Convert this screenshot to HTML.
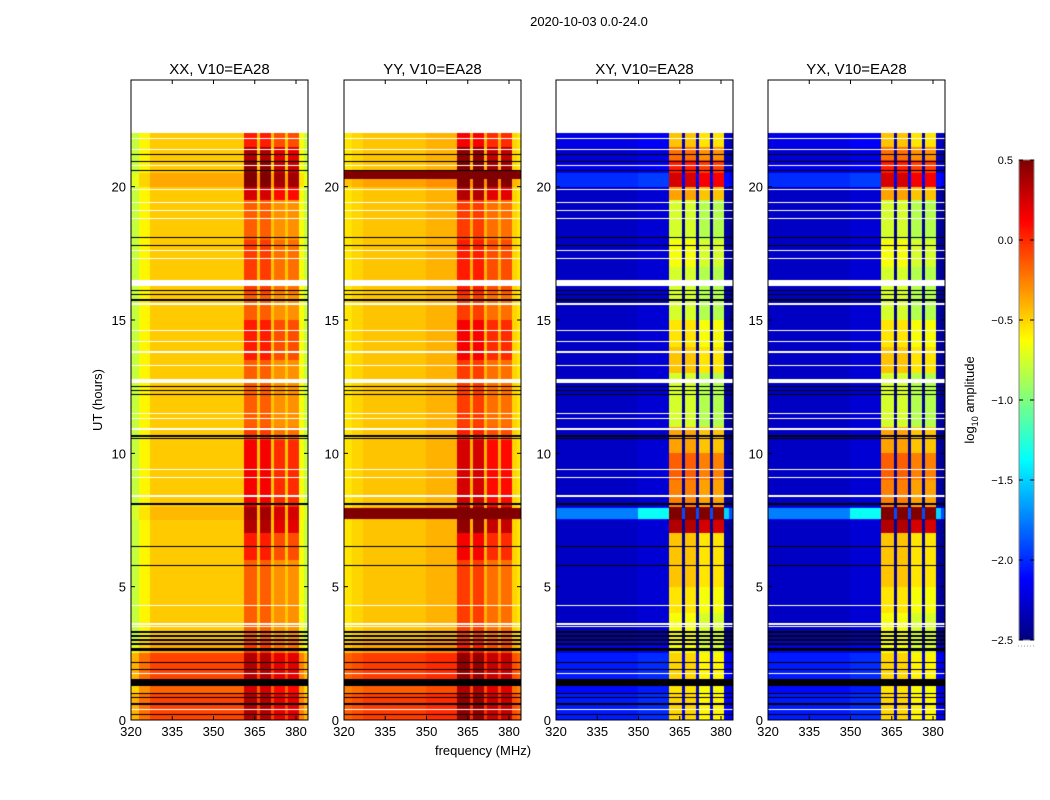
<!DOCTYPE html>
<html><head><meta charset="utf-8">
<style>
body{margin:0;background:#fff;font-family:"Liberation Sans",sans-serif;}
#wrap{position:relative;width:1050px;height:800px;overflow:hidden;}
canvas,svg{position:absolute;left:0;top:0;}
</style></head>
<body>
<div id="wrap">
<canvas id="cv" width="1050" height="800"></canvas>
<svg id="sv" width="1050" height="800"></svg>
</div>
<script>
// ---- data ----
const panelTitles = ["XX, V10=EA28","YY, V10=EA28","XY, V10=EA28","YX, V10=EA28"];
const xTicks = [320,335,350,365,380];
const yTicks = [0,5,10,15,20];
const cbTicks = [0.5,0.0,-0.5,-1.0,-1.5,-2.0,-2.5];
const fEdges = [320,323,327,350,361,366,367,371,372,376,377,381,383,385];
const bandMask = [0,0,0,0,1,0,1,0,1,0,1,0,0];
const profXX = [-0.8,-0.6,-0.47,-0.47,-0.15,-0.45,-0.15,-0.45,-0.3,-0.45,-0.3,-0.65,-0.8];
const profYY = [-0.55,-0.5,-0.45,-0.4,-0.05,-0.4,-0.05,-0.4,-0.2,-0.4,-0.2,-0.5,-0.55];
const profXY = [-2.3,-2.3,-2.3,-2.25,-0.85,-2.45,-0.85,-2.45,-0.95,-2.45,-0.95,-2.4,-2.45];
const profYX = [-2.3,-2.3,-2.3,-2.25,-0.85,-2.45,-0.85,-2.45,-0.95,-2.45,-0.95,-2.4,-2.45];
// half-hour bins from 0 to 22 h (44 values)
const coBase = [0.4,0.4,0.3,0.4,0.4,0.1,0,0,0,0,0,0,0,0,0,0.05,0,0,0,0,0,0,0,0,0,0,0,0,0,0,0,0,0,0,0,0,0,0,0,0,0.1,0,0,0];
const coBand = [0.1,0.1,0.1,0.1,0.1,0,0,0,0,0,0,0,0.2,0.2,0.5,0.5,0.3,0.3,0.3,0.3,0.3,0.1,0,0,0,0,0,0.2,0.2,0.2,0,0,0.1,0.1,0.1,0.1,0,0,0,0.4,0.6,0.6,0.5,0.2];
const crossBase = [0.25,0.25,0.2,0.25,0.25,0.1,0,0,0,0,0,0,0,0,0,0.2,0,0,0,0,0,0,0,0,0,0,0,0,0,0,0,0,0,0,0,0,0,0,0,0,0.3,0.1,0.05,0.1];
const crossBand = [0.1,0.1,0.1,0.1,0.1,0.1,0.2,0.2,0.3,0.3,0.4,0.4,0.4,0.4,1.2,1.2,0.6,0.6,0.7,0.7,0.5,0.5,0.1,0.1,0.1,0.1,0.4,0.4,0.3,0.3,0.1,0.1,0.1,0.1,0.2,0.2,0.1,0.1,0.1,0.5,0.8,0.8,0.6,0.3];
// flagged rows: [time h, thickness h]
const blackLines = [[21.2,0.04],[20.95,0.04],[20.6,0.04],[18.1,0.05],[17.8,0.04],[16.1,0.05],[15.95,0.04],[15.75,0.04],[12.5,0.05],[12.35,0.04],[12.2,0.04],[10.65,0.05],[10.55,0.04],[8.1,0.04],[6.5,0.04],[5.8,0.03],[3.3,0.04],[3.15,0.04],[3.0,0.04],[2.85,0.04],[2.65,0.12],[2.15,0.05],[1.9,0.04],[1.4,0.28],[1.0,0.06],[0.85,0.04],[0.6,0.04],[0.2,0.06]];
const whiteLines = [[21.8,0.05],[21.4,0.05],[20.8,0.05],[19.9,0.04],[19.4,0.04],[19.1,0.04],[18.8,0.04],[17.6,0.04],[17.3,0.04],[16.4,0.22],[15.6,0.04],[14.6,0.04],[14.2,0.04],[13.8,0.04],[13.3,0.04],[12.7,0.16],[11.5,0.04],[11.3,0.04],[10.9,0.07],[9.4,0.04],[9.1,0.04],[8.4,0.04],[4.3,0.04],[3.6,0.04],[3.5,0.04],[1.75,0.04],[0.4,0.04]];
// panel-specific hot rows [t0,t1,addedValue]
const hotYY = [[7.55,7.95,1.0],[20.3,20.6,1.0]];
const hotXY = [[7.55,7.95,1.0]];

// ---- geometry ----
const lefts=[131,344,556,768], W=177, TOP=80, H=640;
const fMin=320, pxPerMHz=2.75, tMax=24;
const xOf=(f,i)=>lefts[i]+(f-fMin)*pxPerMHz;
const yOf=t=>TOP+H-(t/tMax)*H;

function jet(v){
  let x=(v+2.5)/3; x=Math.max(0,Math.min(1,x));
  const r=Math.max(0,Math.min(1,1.5-Math.abs(4*x-3)));
  const g=Math.max(0,Math.min(1,1.5-Math.abs(4*x-2)));
  const b=Math.max(0,Math.min(1,1.5-Math.abs(4*x-1)));
  return [r*255,g*255,b*255];
}
const profs=[profXX,profYY,profXY,profYX];
const hots=[[],hotYY,hotXY,hotXY];
const cv=document.getElementById('cv'), ctx=cv.getContext('2d');
ctx.fillStyle='#fff';ctx.fillRect(0,0,1050,800);
for(let p=0;p<4;p++){
  const img=ctx.createImageData(W,H);
  const cross=p>=2;
  for(let py=0;py<H;py++){
    const t=(H-py-0.5)/H*tMax;
    let row=null;
    if(t>=22) row=[255,255,255];
    for(const [tc,th] of whiteLines) if(Math.abs(t-tc)<=th/2) row=[255,255,255];
    for(const [tc,th] of blackLines) if(Math.abs(t-tc)<=th/2) row=[0,0,0];
    const bi=Math.min(43,Math.floor(t/0.5));
    let hot=0; for(const [a,b,v] of hots[p]) if(t>=a&&t<=b) hot=v;
    for(let px=0;px<W;px++){
      let c;
      if(row) c=row; else {
        const f=fMin+(px+0.5)/pxPerMHz;
        let s=fEdges.length-2;
        for(let k=0;k<fEdges.length-1;k++) if(f<fEdges[k+1]){s=k;break;}
        let v=profs[p][s]+(cross?crossBase[bi]:coBase[bi]);
        if(bandMask[s]) v+=(cross?crossBand[bi]:coBand[bi]);
        v+=hot*(bandMask[s]?1:(cross?(s===3||s===11?0.7:0.35):1));
        c=jet(v);
      }
      const o=(py*W+px)*4; img.data[o]=c[0];img.data[o+1]=c[1];img.data[o+2]=c[2];img.data[o+3]=255;
    }
  }
  ctx.putImageData(img,lefts[p],TOP);
}
// colorbar
const cbX=1019,cbY=160,cbW=15,cbH=480;
for(let y=0;y<cbH;y++){const c=jet(0.5-3*(y+0.5)/cbH);ctx.fillStyle=`rgb(${c[0]|0},${c[1]|0},${c[2]|0})`;ctx.fillRect(cbX,cbY+y,cbW,1);}

// ---- SVG axes ----
const NS='http://www.w3.org/2000/svg', sv=document.getElementById('sv');
function el(tag,attrs,text){const e=document.createElementNS(NS,tag);for(const k in attrs)e.setAttribute(k,attrs[k]);if(text!==undefined)e.textContent=text;sv.appendChild(e);return e;}
let e=el('text',{x:589,y:26,'font-size':13,'text-anchor':'middle'},'2020-10-03 0.0-24.0');


for(let p=0;p<4;p++){
  const L=lefts[p];
  e=el('rect',{x:L,y:TOP,width:W,height:H,fill:'none',stroke:'#000','stroke-width':1});
  
  
  e=el('text',{x:L+W/2,y:74,'font-size':15,'text-anchor':'middle'},panelTitles[p]);
  
  
  for(const f of xTicks){
    const x=xOf(f,p);
    el('line',{x1:x,x2:x,y1:TOP+H,y2:TOP+H-4,stroke:'#000'});
    el('line',{x1:x,x2:x,y1:TOP,y2:TOP+4,stroke:'#000'});
    e=el('text',{x:x,y:TOP+H+16,'font-size':13,'text-anchor':'middle'},String(f));
    
    
  }
  for(const t of yTicks){
    const y=yOf(t);
    el('line',{x1:L,x2:L+4,y1:y,y2:y,stroke:'#000'});
    el('line',{x1:L+W,x2:L+W-4,y1:y,y2:y,stroke:'#000'});
    e=el('text',{x:L-5,y:y+5,'font-size':13,'text-anchor':'end'},String(t));
    
    
  }
}
e=el('text',{x:483,y:755,'font-size':13,'text-anchor':'middle'},'frequency (MHz)');


e=el('text',{x:0,y:0,'font-size':13,'text-anchor':'middle',transform:'translate(102,400) rotate(-90)'},'UT (hours)');


e=el('rect',{x:cbX,y:cbY,width:cbW,height:cbH,fill:'none',stroke:'#888'});


for(const v of cbTicks){
  const y=cbY+(0.5-v)/3*cbH;
  el('line',{x1:cbX+cbW,x2:cbX+cbW-4,y1:y,y2:y,stroke:'#000'});
  el('line',{x1:cbX,x2:cbX+4,y1:y,y2:y,stroke:'#000'});
  e=el('text',{x:1013,y:y+4,'font-size':11,'text-anchor':'end'},(v<0?'\u2212':'')+Math.abs(v).toFixed(1));
  
  
}
e=el('line',{x1:1018,x2:1035,y1:646,y2:646,stroke:'#999','stroke-dasharray':'1 2'});


e=el('text',{x:0,y:0,'font-size':13,'text-anchor':'middle',transform:'translate(974,400) rotate(-90)'});


e.innerHTML='log<tspan font-size="9" dy="4">10</tspan><tspan dy="-4"> amplitude</tspan>';
</script>
</body></html>
